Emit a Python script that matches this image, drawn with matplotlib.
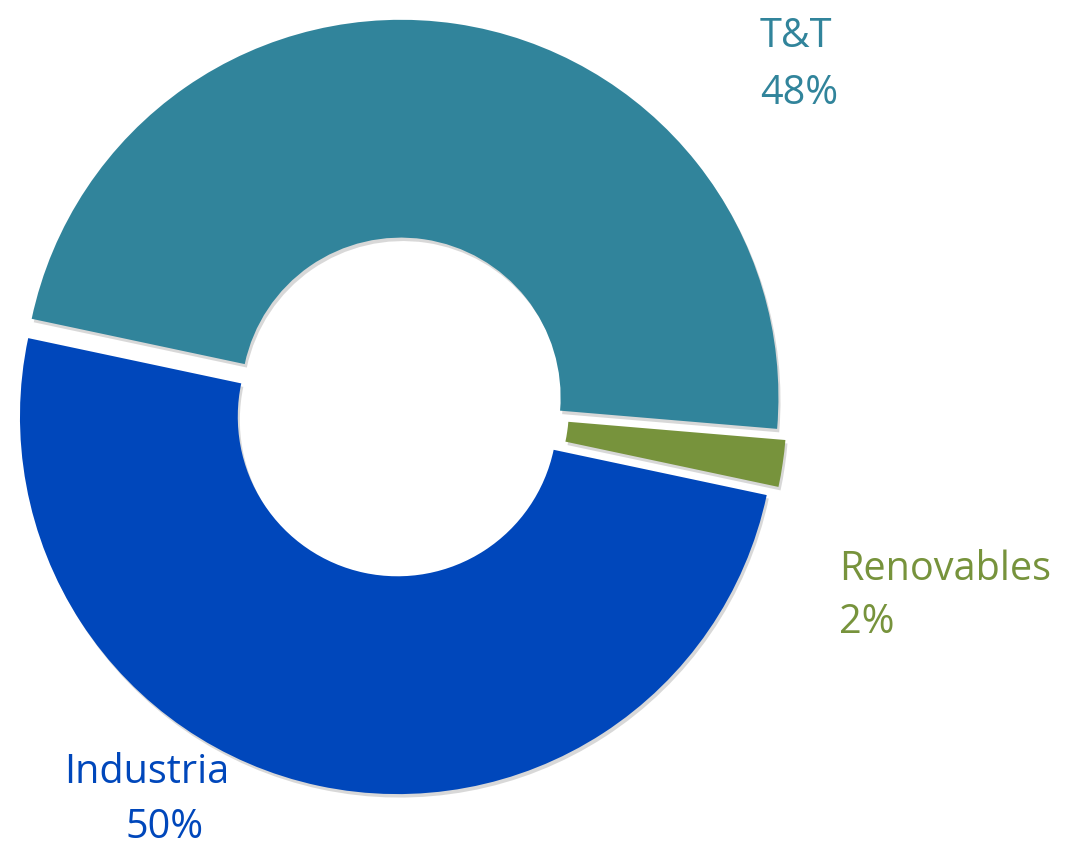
import matplotlib
matplotlib.use("Agg")
import matplotlib.pyplot as plt
import matplotlib.patheffects as pe

# -----------------------------
# Data
# -----------------------------
segments = ["T&T", "Renovables", "Industria"]
shares = [48, 2, 50]
pct_labels = ["48%", "2%", "50%"]
colors = ["#31849B", "#77933C", "#0047BB"]

# label placement in figure pixels (left x, name baseline, pct left x, pct baseline)
label_pos = [
    (760, 47, 760, 104),
    (839, 580, 839, 633),
    (64, 783, 126, 838),
]

W, H = 1080, 850
plt.rcParams["font.family"] = ["Open Sans", "DejaVu Sans"]

fig = plt.figure(figsize=(W / 100, H / 100), dpi=100)
ax = fig.add_axes([0, 0, 1, 1])

wedges, _ = ax.pie(
    shares,
    colors=colors,
    startangle=168,
    counterclock=False,
    explode=[0.026] * len(shares),
    radius=1.0,
    wedgeprops=dict(width=0.577, linewidth=0),
)
for w in wedges:
    w.set_path_effects([
        pe.SimplePatchShadow(offset=(1.5, -2.5), shadow_rgbFace="0.4", alpha=0.25),
        pe.Normal(),
    ])

# donut centre at (399.5, 407) px, outer radius 377.5 px
cx, cy, R = 399.5, 407.0, 377.5
ax.set_xlim(-cx / R, (W - cx) / R)
ax.set_ylim(-(H - cy) / R, cy / R)
ax.set_aspect("auto")
ax.axis("off")

for name, pct, col, (x1, y1, x2, y2) in zip(segments, pct_labels, colors, label_pos):
    fig.text(x1 / W, 1 - y1 / H, name, color=col, fontsize=28.5,
             ha="left", va="baseline")
    fig.text(x2 / W, 1 - y2 / H, pct, color=col, fontsize=28.5,
             ha="left", va="baseline")

fig.savefig("out.png", dpi=100, facecolor="white")
